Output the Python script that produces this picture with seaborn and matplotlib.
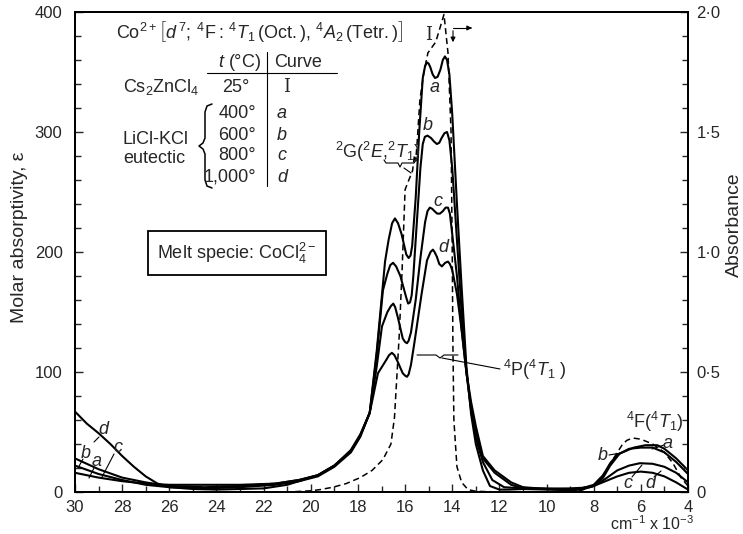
import matplotlib
matplotlib.use('Agg')
import matplotlib.pyplot as plt
from matplotlib.lines import Line2D
from matplotlib.patches import FancyArrowPatch
from matplotlib.ticker import MultipleLocator, FuncFormatter
import seaborn as sns

sns.set_style('ticks')
plt.rcParams['font.family'] = ['Liberation Sans', 'DejaVu Sans']
plt.rcParams['mathtext.fontset'] = 'custom'
plt.rcParams['mathtext.rm'] = 'Liberation Sans'
plt.rcParams['mathtext.it'] = 'Liberation Sans:italic'
plt.rcParams['mathtext.bf'] = 'Liberation Sans:bold'

# wavenumber (cm-1 x 10-3) and molar absorptivity
a_x = [4.0, 4.5, 5.0, 5.3, 5.8, 6.3, 6.9, 7.3, 7.6, 8.0, 8.5, 9.0, 10.0, 11.0, 11.6, 12.0, 12.4, 12.7,
       13.0, 13.2, 13.4, 13.6, 13.8, 14.0, 14.12, 14.22, 14.31, 14.4, 14.5, 14.62, 14.73, 14.83, 14.93,
       15.0, 15.07, 15.15, 15.25, 15.4, 15.55, 15.7, 15.77, 15.85, 15.95, 16.15, 16.3, 16.43, 16.55,
       16.7, 16.85, 17.0, 17.2, 17.5, 17.9, 18.3, 19.0, 19.7, 20.5, 21.5, 23.0, 24.5, 26.0, 27.0,
       28.0, 29.0, 30.0]
a_y = [18, 28, 36, 39, 39, 37, 32, 22, 12, 5, 2, 1.5, 2, 2.5, 2, 2, 5, 18,
       40, 65, 105, 170, 240, 315, 348, 360, 363, 360, 352, 346, 345, 348, 354,
       357, 358, 355, 345, 300, 245, 205, 197, 195, 198, 215, 224, 228, 224,
       210, 192, 160, 118, 66, 46, 33, 21, 13, 9, 6, 4, 3, 4, 6,
       10, 15, 22]

b_x = [4.0, 4.5, 5.0, 5.5, 6.0, 6.5, 7.0, 7.3, 7.6, 8.0, 8.5, 9.0, 10.0, 11.0, 11.8, 12.3, 12.7,
       13.0, 13.2, 13.4, 13.6, 13.8, 14.0, 14.12, 14.22, 14.33, 14.45, 14.55, 14.65, 14.77, 14.9,
       15.05, 15.16, 15.25, 15.35, 15.5, 15.65, 15.72, 15.79, 15.87, 15.95, 16.2, 16.38, 16.51,
       16.63, 16.75, 16.94, 17.2, 17.5, 17.9, 18.3, 19.0, 19.7, 20.5, 21.5, 23.0, 24.5, 26.0,
       27.0, 28.0, 29.0, 30.0]
b_y = [15, 25, 33, 37, 37, 36, 31, 24, 14, 6, 3, 2, 2.5, 3, 4, 10, 25,
       45, 68, 100, 150, 210, 270, 293, 300, 299, 295, 291, 290, 292, 295,
       297, 296, 290, 270, 225, 180, 164, 158, 157, 162, 180, 188, 191,
       189, 182, 168, 115, 66, 47, 34, 22, 14, 10, 7, 5, 4, 5,
       8, 12, 19, 28]

c_x = [4.0, 4.5, 5.0, 5.5, 6.04, 6.5, 7.0, 7.5, 8.0, 8.5, 9.0, 10.0, 11.0, 11.5, 12.2, 12.7,
       13.0, 13.2, 13.4, 13.6, 13.8, 14.0, 14.1, 14.18, 14.28, 14.4, 14.52, 14.64, 14.75, 14.85,
       14.95, 15.05, 15.15, 15.35, 15.55, 15.75, 15.85, 15.92, 16.0, 16.1, 16.3, 16.42, 16.5,
       16.6, 16.75, 16.98, 17.2, 17.5, 17.9, 18.3, 19.0, 19.7, 20.5, 21.5, 23.0, 24.5, 26.0,
       27.0, 28.0, 29.0, 30.0]
c_y = [8, 16, 21, 23.5, 24, 22, 18, 11, 5, 3, 2.5, 3, 3, 6, 16, 28,
       50, 70, 100, 135, 180, 215, 232, 237, 237, 234, 232, 232, 234, 236,
       237, 234, 225, 195, 160, 133, 126, 124, 125, 128, 145, 154, 157,
       155, 150, 138, 105, 66, 47, 34, 22, 14, 10, 7, 6, 6, 6,
       7, 9, 12, 16]

d_x = [4.0, 4.5, 5.0, 5.5, 6.0, 6.5, 7.0, 7.5, 8.0, 8.5, 9.0, 10.0, 11.0, 11.5, 12.2, 12.7,
       13.0, 13.2, 13.4, 13.6, 13.8, 14.0, 14.1, 14.18, 14.3, 14.44, 14.55, 14.65, 14.75, 14.82,
       14.92, 15.07, 15.3, 15.6, 15.75, 15.85, 15.92, 16.0, 16.1, 16.3, 16.45, 16.56, 16.68, 16.8,
       17.15, 17.5, 17.9, 18.3, 19.0, 19.7, 20.5, 21.0, 22.0, 24.0, 25.0, 26.0, 26.5, 27.0, 27.5,
       28.0, 28.5, 29.0, 29.5, 30.0]
d_y = [2, 8, 13, 16, 17, 16, 13, 9, 5, 3.5, 3, 2.5, 4, 8, 18, 30,
       55, 75, 100, 135, 165, 185, 190, 192, 191, 188, 190, 196, 200, 202,
       200, 193, 165, 125, 106, 98, 96, 97, 99, 108, 114, 116, 114, 110,
       99, 66, 48, 35, 22, 14, 9, 6, 3, 2, 2.5, 4, 7, 13, 21,
       30, 40, 49, 57, 67]

# curve I (Cs2ZnCl4, 25 C) is read against the absorbance scale
I_x = [4.0, 4.3, 4.64, 5.0, 5.5, 6.0, 6.34, 6.6, 6.8, 7.0, 7.5, 8.0, 8.5, 9.0, 10.0, 12.0, 13.0,
       13.33, 13.6, 13.8, 13.93, 13.97, 14.0, 14.05, 14.18, 14.35, 14.5, 14.7, 15.03, 15.2, 15.37,
       15.5, 15.55, 15.6, 15.68, 15.8, 16.0, 16.13, 16.25, 16.34, 16.45, 16.6, 16.94, 17.4, 17.9,
       18.5, 19.06, 19.6, 20.0, 21.0]
I_abs = [0.025, 0.06, 0.12, 0.165, 0.2, 0.22, 0.225, 0.215, 0.195, 0.165, 0.085, 0.025, 0.008,
         0.003, 0, 0, 0.003, 0.01, 0.04, 0.105, 0.3, 0.6, 1.0, 1.5, 1.83, 1.99, 1.94, 1.875, 1.83,
         1.75, 1.635, 1.44, 1.38, 1.405, 1.34, 1.31, 1.26, 0.915, 0.65, 0.495, 0.31, 0.2, 0.135,
         0.09, 0.06, 0.035, 0.02, 0.01, 0.005, 0]

W, H = 743, 534
fig = plt.figure(figsize=(W / 100, H / 100), dpi=100)
ax = fig.add_axes([75 / W, 42 / H, 613 / W, 480 / H])
ax2 = ax.twinx()


def P(x, y):
    # pixel position -> figure fraction
    return x / W, 1 - y / H


for xs, ys in [(a_x, a_y), (b_x, b_y), (c_x, c_y), (d_x, d_y)]:
    sns.lineplot(x=xs, y=ys, ax=ax, color='black', lw=1.5, estimator=None, sort=False)
sns.lineplot(x=I_x, y=I_abs, ax=ax2, color='black', lw=1.1, linestyle=(0, (4, 2.5)),
             estimator=None, sort=False)

ax.set_xlim(30, 4)
ax.set_ylim(0, 400)
ax2.set_ylim(0, 2.0)
ax.xaxis.set_major_locator(MultipleLocator(2))
ax.xaxis.set_minor_locator(MultipleLocator(1))
ax.yaxis.set_major_locator(MultipleLocator(100))
ax.yaxis.set_minor_locator(MultipleLocator(20))
ax2.yaxis.set_major_locator(MultipleLocator(0.5))
ax2.yaxis.set_minor_locator(MultipleLocator(0.1))
ax2.yaxis.set_major_formatter(FuncFormatter(lambda v, p: '0' if v == 0 else f'{v:.1f}'.replace('.', '·')))
ax.tick_params(which='both', direction='in', labelsize=12, width=1)
ax.tick_params(which='major', length=6)
ax.tick_params(which='minor', length=4)
ax.tick_params(axis='x', pad=6)
ax.tick_params(axis='y', pad=9)
ax2.tick_params(which='both', direction='in', labelsize=12, width=1, pad=6)
ax2.tick_params(which='major', length=6)
ax2.tick_params(which='minor', length=4)
for a in (ax, ax2):
    for s in a.spines.values():
        s.set_linewidth(1.4)
        s.set_color('black')

ax.set_xlabel('')
ax.set_ylabel('Molar absorptivity, ε', fontsize=14)
ax.yaxis.set_label_coords(-0.076, 0.531)
ax2.set_ylabel('Absorbance', fontsize=14)
ax2.yaxis.set_label_coords(1.062, 0.556)

fs = 13


def txt(x, y, s, size=fs, **kw):
    fig.text(*P(x, y), s, fontsize=size, ha=kw.pop('ha', 'center'), va=kw.pop('va', 'center'), **kw)


def line(pts, lw=0.8):
    xs = [P(x, y)[0] for x, y in pts]
    ys = [P(x, y)[1] for x, y in pts]
    fig.add_artist(Line2D(xs, ys, transform=fig.transFigure, color='black', lw=lw))


def arrow(p0, p1):
    fig.add_artist(FancyArrowPatch(P(*p0), P(*p1), transform=fig.transFigure, arrowstyle='-|>',
                                   mutation_scale=7, color='black', lw=0.8))


txt(260, 32, r'Co$^{2+}\left[d^{\,7};\,^{4}\mathrm{F}:\,^{4}T_1\,\mathrm{(Oct.)},\,^{4}A_2\,\mathrm{(Tetr.)}\right]$', 13)
txt(240, 62, r'$t$ (°C)')
txt(298, 62, 'Curve')
line([(207, 73), (337, 73)])
line([(267, 52), (267, 186)])
txt(161, 87, r'Cs$_2$ZnCl$_4$')
txt(236, 87, '25°')
txt(287, 87, 'I', family='DejaVu Serif')
txt(156, 140, 'LiCl-KCl')
txt(154, 158, 'eutectic')
# curly brace grouping the eutectic rows
line([(212, 104), (207, 106), (205, 112), (205, 138), (203, 143), (199, 146), (203, 149),
      (205, 154), (205, 180), (207, 186), (212, 188)], lw=1.1)
for yy, t, c in [(114, '400°', 'a'), (135, '600°', 'b'), (156, '800°', 'c'), (177, '1,000°', 'd')]:
    txt(256, yy, t, ha='right')
    txt(282, yy, c, style='italic')

fig.text(*P(237, 253), r'Melt specie: CoCl$_4^{2-}$', fontsize=13, ha='center', va='center',
         bbox=dict(boxstyle='square,pad=0.55', fc='white', ec='black', lw=1.3))

# peak labels and assignments
txt(429, 35, 'I', family='DejaVu Serif')
line([(453, 28), (468, 28)])
arrow((468, 28), (472, 28))
arrow((453, 28), (453, 45))
for x, y, c in [(435, 88, 'a'), (428, 125, 'b'), (438, 202, 'c'), (443, 248, 'd'),
                (103, 430, 'd'), (118, 448, 'c'), (86, 453, 'b'), (97, 462, 'a'),
                (668, 443, 'a'), (603, 455, 'b'), (628, 483, 'c'), (650, 483, 'd')]:
    txt(x, y, c, style='italic')
line([(99, 437), (94, 442)])
line([(114, 454), (102, 477)])
line([(83, 459), (78, 468)])
line([(94, 468), (89, 478)])
line([(664, 445), (652, 449)])
line([(609, 455), (621, 453)])
line([(632, 477), (642, 465)])
line([(654, 477), (661, 471)])

txt(378, 152, r'$^{2}$G($^{2}E$,$^{2}T_1$)')
line([(384, 160), (386, 163), (398, 163), (400, 167), (402, 163), (414, 163), (416, 160)])
line([(404, 168), (411, 173)])
txt(535, 370, r'$^{4}$P($^{4}T_1$ )')
line([(417, 355), (436, 355), (440, 358), (444, 355), (458, 355)])
line([(442, 358), (500, 369)])
txt(655, 422, r'$^{4}$F($^{4}T_1$)')

txt(652, 533, r'cm$^{-1}$ x 10$^{-3}$', 11.5, va='bottom')

fig.savefig('out.png', dpi=100)
